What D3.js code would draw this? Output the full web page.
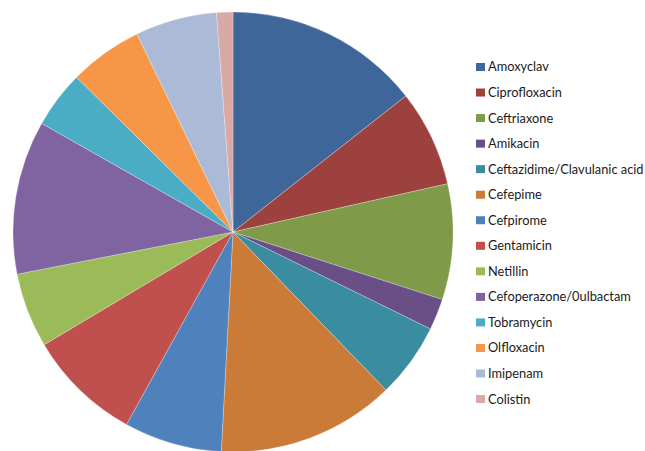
<!DOCTYPE html>
<html>
<head>
<meta charset="utf-8">
<script src="https://cdn.jsdelivr.net/npm/d3@7"></script>
<style>
  html, body { margin: 0; padding: 0; background: #fff; }
  svg { display: block; }
</style>
</head>
<body>
<svg id="chart" width="645" height="451"></svg>
<script>
const categories = [
  "Amoxyclav", "Ciprofloxacin", "Ceftriaxone", "Amikacin",
  "Ceftazidime/Clavulanic acid", "Cefepime", "Cefpirome", "Gentamicin",
  "Netillin", "Cefoperazone/0ulbactam", "Tobramycin", "Olfloxacin",
  "Imipenam", "Colistin"
];
const values = [14.4, 7.1, 8.5, 2.3, 5.5, 13.1, 7.2, 8.4, 5.5, 11.3, 4.2, 5.4, 6.0, 1.2];
const colors = [
  "#3F6699", "#9D413E", "#7F9A48", "#6A4F87", "#3A8CA0", "#CB7B38",
  "#4F81BD", "#C0504D", "#9BBB59", "#8064A2", "#4BACC6", "#F79646",
  "#AABAD7", "#D9A9A8"
];

const svg = d3.select("#chart");
const cx = 233, cy = 232, r = 220;

const pie = d3.pie().sort(null).value(d => d.v);
const arc = d3.arc().innerRadius(0).outerRadius(r);
const data = categories.map((c, i) => ({ c, v: values[i], col: colors[i] }));

svg.append("g")
  .attr("transform", `translate(${cx},${cy})`)
  .selectAll("path")
  .data(pie(data))
  .join("path")
  .attr("d", arc)
  .attr("fill", d => d.data.col)
  .attr("stroke", "#ffffff")
  .attr("stroke-opacity", 0.45)
  .attr("stroke-width", 0.6);

const legend = svg.append("g").attr("transform", "translate(476,67)");
const rowH = 25.54;
const item = legend.selectAll("g")
  .data(data)
  .join("g")
  .attr("transform", (d, i) => `translate(0,${i * rowH})`);
item.append("rect")
  .attr("x", 0).attr("y", -4)
  .attr("width", 9).attr("height", 8)
  .attr("fill", d => d.col);
item.append("text")
  .attr("x", 12).attr("y", 0)
  .attr("dy", "0.35em")
  .attr("font-family", "Lato, 'Open Sans', sans-serif")
  .attr("font-size", 12.8)
  .attr("fill", "#1a1a1a")
  .text(d => d.c);
</script>
</body>
</html>
